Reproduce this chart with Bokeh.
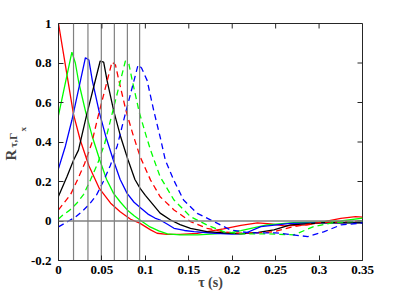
from bokeh.plotting import figure
from bokeh.models import FixedTicker, Span, Title
from bokeh.embed import file_html
from bokeh.resources import INLINE

# ---------------- data ----------------
XTICKS = [0, 0.05, 0.1, 0.15, 0.2, 0.25, 0.3, 0.35]
XTICK_LABELS = ["0", "0.05", "0.1", "0.15", "0.2", "0.25", "0.3", "0.35"]
YTICKS = [-0.2, 0, 0.2, 0.4, 0.6, 0.8, 1]
YTICK_LABELS = ["-0.2", "0", "0.2", "0.4", "0.6", "0.8", "1"]

LAGS = [0.0173, 0.0339, 0.0493, 0.0643, 0.0793, 0.0934]

red_solid_x = [0, 0.0173, 0.025, 0.035, 0.047, 0.06, 0.071, 0.083, 0.094, 0.106, 0.1135, 0.125,
               0.14, 0.16, 0.171, 0.19, 0.21, 0.229, 0.244, 0.26, 0.287, 0.325, 0.342, 0.35]
red_solid_y = [1.0, 0.54, 0.41, 0.28, 0.165, 0.09, 0.047, 0.009, -0.012, -0.045, -0.062, -0.068,
               -0.068, -0.063, -0.054, -0.04, -0.022, -0.01, -0.015, -0.025, -0.02, 0.013, 0.022, 0.02]

green_solid_x = [0, 0.0154, 0.0194, 0.0234, 0.0314, 0.0394, 0.0474, 0.0554, 0.0634, 0.0714, 0.0794,
                 0.0874, 0.0954, 0.1054, 0.1154, 0.1254, 0.14, 0.16, 0.18, 0.2, 0.21, 0.24, 0.271,
                 0.3, 0.325, 0.35]
green_solid_y = [0.535, 0.855, 0.80, 0.70, 0.55, 0.42, 0.31, 0.21, 0.14, 0.095, 0.055,
                 0.025, 0.0, -0.03, -0.05, -0.065, -0.07, -0.07, -0.065, -0.058, -0.049, -0.02, -0.008,
                 -0.005, 0.0, 0.015]

blue_solid_x = [0, 0.008, 0.0154, 0.031, 0.035, 0.039, 0.047, 0.055, 0.063, 0.071, 0.079, 0.087,
                0.095, 0.103, 0.111, 0.117, 0.125, 0.133, 0.145, 0.156, 0.18, 0.2, 0.215, 0.233,
                0.267, 0.3, 0.35]
blue_solid_y = [0.266, 0.38, 0.51, 0.827, 0.815, 0.71, 0.55, 0.42, 0.31, 0.21, 0.14, 0.095,
                0.065, 0.035, 0.015, 0.005, -0.015, -0.037, -0.048, -0.054, -0.062, -0.066, -0.062, -0.028,
                -0.012, -0.01, -0.008]

black_x = [0, 0.0097, 0.0173, 0.023, 0.032, 0.048, 0.052, 0.056, 0.064, 0.072, 0.080, 0.088,
           0.094, 0.1, 0.106, 0.117, 0.129, 0.14, 0.152, 0.171, 0.19, 0.21, 0.23, 0.248, 0.267,
           0.306, 0.35]
black_y = [0.125, 0.224, 0.308, 0.359, 0.53, 0.81, 0.805, 0.71, 0.55, 0.42, 0.31, 0.21,
           0.165, 0.13, 0.098, 0.04, 0.005, -0.018, -0.037, -0.054, -0.06, -0.065, -0.058, -0.045, -0.02,
           -0.008, -0.01]

red_dash_x = [0, 0.006, 0.014, 0.022, 0.030, 0.038, 0.0456, 0.0616, 0.0656, 0.0696, 0.0776, 0.0856,
              0.094, 0.106, 0.117, 0.133, 0.152, 0.171, 0.19, 0.21, 0.23, 0.248, 0.271, 0.3, 0.35]
red_dash_y = [0.056, 0.09, 0.135, 0.21, 0.29, 0.39, 0.53, 0.805, 0.79, 0.71, 0.56, 0.44,
              0.325, 0.207, 0.123, 0.056, -0.003, -0.037, -0.055, -0.062, -0.06, -0.054, -0.028, -0.008, 0.0]

green_dash_x = [0, 0.005, 0.013, 0.021, 0.029, 0.037, 0.045, 0.053, 0.061, 0.077, 0.081, 0.085,
                0.093, 0.101, 0.106, 0.117, 0.133, 0.152, 0.171, 0.19, 0.21, 0.24, 0.271, 0.294,
                0.317, 0.35]
green_dash_y = [0.01, 0.03, 0.055, 0.09, 0.135, 0.21, 0.29, 0.39, 0.53, 0.81, 0.795, 0.71,
                0.55, 0.43, 0.359, 0.224, 0.106, 0.022, -0.02, -0.054, -0.065, -0.065, -0.07, -0.028,
                -0.008, 0.0]

blue_dash_x = [0, 0.0116, 0.0196, 0.0276, 0.0356, 0.0436, 0.0516, 0.0596, 0.0676, 0.0756, 0.0916,
               0.0956, 0.102, 0.1096, 0.117, 0.123, 0.1327, 0.144, 0.1597, 0.183, 0.198, 0.22, 0.25,
               0.27, 0.287, 0.306, 0.325, 0.35]
blue_dash_y = [-0.03, 0.0, 0.02, 0.05, 0.085, 0.13, 0.2, 0.28, 0.38, 0.52, 0.79,
               0.775, 0.712, 0.56, 0.426, 0.308, 0.207, 0.106, 0.039, -0.012, -0.045, -0.06, -0.06,
               -0.07, -0.079, -0.054, -0.02, -0.01]

SERIES = [
    (red_solid_x, red_solid_y, "#ff0000", "solid"),
    (green_solid_x, green_solid_y, "#00ff00", "solid"),
    (blue_solid_x, blue_solid_y, "#0000ff", "solid"),
    (black_x, black_y, "#000000", "solid"),
    (red_dash_x, red_dash_y, "#ff0000", "6 4"),
    (green_dash_x, green_dash_y, "#00ff00", "6 4"),
    (blue_dash_x, blue_dash_y, "#0000ff", "6 4"),
]

# ---------------- figure ----------------
FONT = "'Liberation Serif', 'Times New Roman', serif"
AX = "#262626"
X0, X1 = XTICKS[0], XTICKS[-1]
Y0, Y1 = YTICKS[0], YTICKS[-1]

p = figure(width=391, height=291, x_range=(X0, X1), y_range=(Y0, Y1),
           output_backend="svg", toolbar_location=None,
           min_border_left=58, min_border_right=29, min_border_top=23, min_border_bottom=31)
p.grid.visible = False
p.outline_line_color = AX
p.outline_line_width = 1
p.background_fill_color = "white"
p.border_fill_color = "white"

def style_axis(ax, ticks, labels, standoff):
    ax.ticker = FixedTicker(ticks=ticks)
    ax.major_label_overrides = {t: l for t, l in zip(ticks, labels)}
    ax.major_tick_in = 5
    ax.major_tick_out = 0
    ax.minor_tick_line_color = None
    ax.axis_line_color = AX
    ax.major_tick_line_color = AX
    ax.major_label_text_font = FONT
    ax.major_label_text_font_style = "bold"
    ax.major_label_text_font_size = "13px"
    ax.major_label_text_color = "#000000"
    ax.major_label_standoff = standoff

style_axis(p.xaxis[0], XTICKS, XTICK_LABELS, 5)
style_axis(p.yaxis[0], YTICKS, YTICK_LABELS, 7)

for xs, ys, col, dash in SERIES:
    p.line(xs, ys, line_color=col, line_width=1.3, line_dash=dash)

p.segment(x0=LAGS, y0=[Y0] * len(LAGS), x1=LAGS, y1=[Y1] * len(LAGS),
          line_color="#808080", line_width=1.2)
p.add_layout(Span(location=0, dimension="width", line_color="#808080", line_width=1.5))

# mirrored inward ticks on top and right edges (box)
tick_dx = (X1 - X0) * 5 / 304
tick_dy = (Y1 - Y0) * 5 / 237
p.segment(x0=XTICKS, y0=[Y1] * len(XTICKS), x1=XTICKS, y1=[Y1 - tick_dy] * len(XTICKS),
          line_color=AX, line_width=1)
p.segment(x0=[X1] * len(YTICKS), y0=YTICKS, x1=[X1 - tick_dx] * len(YTICKS), y1=YTICKS,
          line_color=AX, line_width=1)

# x-axis title
p.add_layout(Title(text="τ (s)", text_font=FONT, text_font_style="bold", text_font_size="14px",
                   align="center", vertical_align="top", standoff=-4), "below")

# y-axis title R_{τ,Γ_x}, built from three stacked titles
p.add_layout(Title(text="x", text_font=FONT, text_font_style="bold", text_font_size="9px",
                   align="left", vertical_align="bottom", offset=129, standoff=0), "left")
p.add_layout(Title(text="τ,Γ", text_font=FONT, text_font_style="bold", text_font_size="11px",
                   align="left", vertical_align="bottom", offset=113, standoff=-6), "left")
p.add_layout(Title(text="R", text_font=FONT, text_font_style="bold", text_font_size="15px",
                   align="left", vertical_align="bottom", offset=100, standoff=-23), "left")

open("out.html", "w").write(file_html(p, INLINE))
